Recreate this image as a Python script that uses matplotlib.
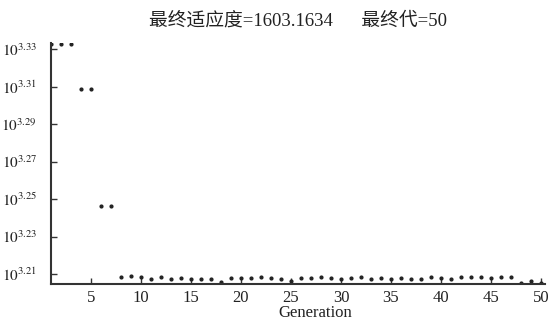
import numpy as np
import matplotlib
matplotlib.use('Agg')
import matplotlib.pyplot as plt

plt.rcParams['font.family'] = ['Liberation Serif', 'Noto Sans CJK SC']
plt.rcParams['mathtext.fontset'] = 'stix'

# 每代的最优适应度
generation = list(range(1, 51))
fitness = [2152, 2152, 2152, 2035, 2035, 1763, 1763,
           1615.4, 1618.0, 1615.4, 1611.3, 1615.4, 1611.3, 1613.5, 1611.3, 1612.8, 1612.0,
           1605.4, 1613.5, 1613.5, 1613.5, 1616.1, 1613.5, 1612.0, 1608.7, 1613.5, 1613.5,
           1616.5, 1614.6, 1612.0, 1614.6, 1616.5, 1612.0, 1614.6, 1612.0, 1614.6, 1612.0,
           1612.0, 1616.5, 1614.6, 1612.0, 1616.5, 1616.5, 1616.5, 1614.6, 1616.5, 1616.5,
           1604.6, 1608.0, 1603.1634]
ytick_exp = [3.21, 3.23, 3.25, 3.27, 3.29, 3.31, 3.33]
xticks = [5, 10, 15, 20, 25, 30, 35, 40, 45, 50]

fig = plt.figure(figsize=(5.51, 3.21), dpi=100)
ax = fig.add_axes([0.0926, 0.1153, 0.8964, 0.752])

ax.plot(generation, fitness, '.', color='#222222', markersize=4, linestyle='none')
ax.set_yscale('log')
ax.set_xlim(1, 50.4)
ax.set_ylim(10 ** 3.2047, 10 ** 3.3335)

ax.set_yticks([10 ** e for e in ytick_exp])
ax.set_yticklabels([r'$10^{%.2f}$' % e for e in ytick_exp])
ax.yaxis.set_minor_locator(matplotlib.ticker.NullLocator())
ax.yaxis.set_minor_formatter(matplotlib.ticker.NullFormatter())
ax.set_xticks(xticks)

for s in ['top', 'right']:
    ax.spines[s].set_visible(False)
for s in ['left', 'bottom']:
    ax.spines[s].set_linewidth(1.5)
    ax.spines[s].set_color('#333333')

ax.tick_params(axis='both', direction='in', length=4, width=1, color='#333333',
               labelcolor='#222222')
ax.tick_params(axis='y', pad=10, labelsize=11)
ax.tick_params(axis='x', pad=4, labelsize=12)

ax.set_xlabel('Generation', fontsize=12, color='#222222', labelpad=0)
ax.xaxis.set_label_coords(0.535, -0.085)
ax.set_title('最终适应度=1603.1634      最终代=50', fontsize=13.5, color='#222222', pad=12)

fig.savefig('out.png', dpi=100)
